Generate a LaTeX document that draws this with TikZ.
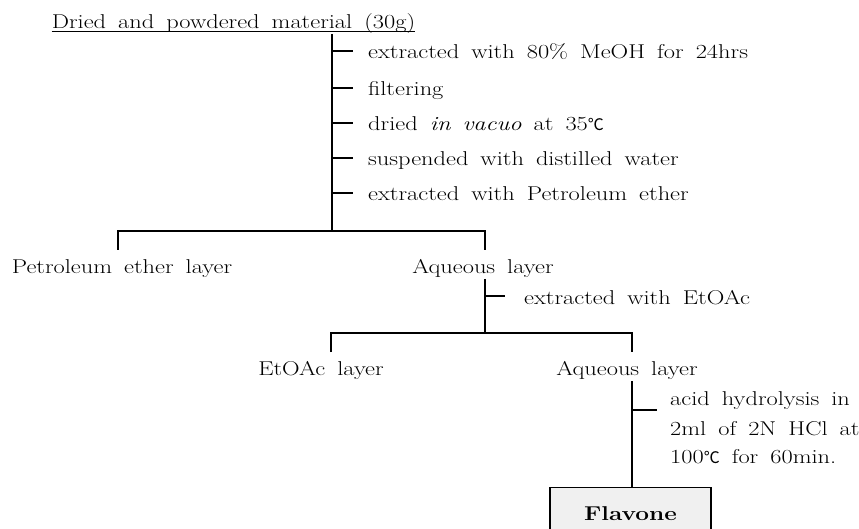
\documentclass[tikz,border=0pt]{standalone}
\usepackage{fontspec}
\setmainfont{Latin Modern Roman}[FakeStretch=1.22]
\newfontfamily\symfont{Noto Sans CJK SC}
\newcommand{\degC}{{\symfont\fontsize{16}{18}\selectfont ℃}}
\newcommand{\chartfont}{\fontsize{20}{24}\selectfont\setlength{\spaceskip}{0.6em}}
\begin{document}
\begin{tikzpicture}[x=1pt,y=-1pt,
  every node/.style={font=\chartfont, inner sep=0pt, text height=20pt, text depth=4pt},
  step label/.style={anchor=west},
  layer/.style={anchor=center},
  bone/.style={line width=1.7pt},
  tick/.style={line width=1.7pt},
  thinline/.style={line width=0.8pt}]
\useasboundingbox (0,0) rectangle (859,529);
\clip (0,0) rectangle (859,529);
% title
\node[anchor=center] (title) at (233.5,21) {Dried and powdered material (30g)};
\draw[thinline] ([yshift=2pt]title.south west) -- ([yshift=2pt]title.south east);
% first stem
\coordinate (v1top) at (332,34);
\coordinate (bar1) at (332,231);
\node[step label] (s1) at (368,51) {extracted with 80\% MeOH for 24hrs};
\node[step label] (s2) at (368,88) {filtering};
\node[step label] (s3) at (368,123) {dried \textit{in vacuo} at 35\degC};
\node[step label] (s4) at (368,158) {suspended with distilled water};
\node[step label] (s5) at (368,193) {extracted with Petroleum ether};
\draw[bone] (v1top) -- (bar1);
\foreach \s in {s1,s2,s3,s4,s5}{
  \draw[tick] (\s.west -| bar1) -- ([xshift=-15pt]\s.west);
}
% first split
\node[layer] (pe) at (122,265) {Petroleum ether layer};
\node[layer] (aq1) at (483,265) {Aqueous layer};
\coordinate (d1l) at (118,231);
\coordinate (d1r) at (485,231);
\draw[bone] ([yshift=-19pt]d1l) -- (d1l) -- (d1r) -- ([yshift=-19pt]d1r);
% second stem
\coordinate (v2top) at (485,279);
\coordinate (bar2) at (485,333);
\node[step label] (e1) at (524,296) {extracted with EtOAc};
\draw[bone] (v2top) -- (bar2);
\draw[tick] (e1.west -| bar2) -- ([xshift=-19pt]e1.west);
% second split
\node[layer] (ea) at (321,367) {EtOAc layer};
\node[layer] (aq2) at (627,367) {Aqueous layer};
\coordinate (d2l) at (331,333);
\coordinate (d2r) at (632,333);
\draw[bone] ([yshift=-19pt]d2l) -- (d2l) -- (d2r) -- ([yshift=-19pt]d2r);
% third stem
\coordinate (v3top) at (632,381);
\node[anchor=west] (h1) at (670,397) {acid hydrolysis in};
\node[anchor=west] (h2) at (670,427) {2ml of 2N HCl at};
\node[anchor=west] (h3) at (670,455) {100\degC\ for 60min.};
\coordinate (t3) at (632,410);
\draw[tick] (t3) -- (657,410);
% flavone box
\node[draw, line width=1.2pt, fill=gray!12, anchor=north, minimum width=161pt, minimum height=50pt] (flav) at (630.5,487) {\textbf{Flavone}};
\draw[bone] (v3top) -- (v3top |- flav.north);
\end{tikzpicture}
\end{document}
